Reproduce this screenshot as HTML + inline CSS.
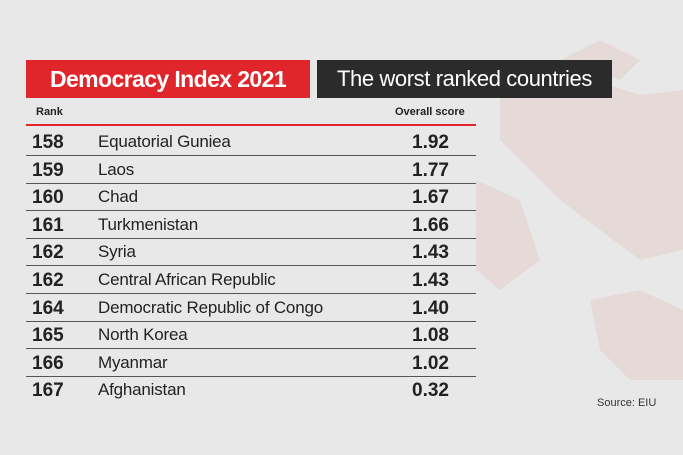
<!DOCTYPE html>
<html><head><style>
body{margin:0;width:683px;height:455px;background:#e9e8e8;position:relative;overflow:hidden;font-family:"Liberation Sans",sans-serif;}
.abs{position:absolute}
.t1{left:26px;top:60px;width:284px;height:38px;background:#e0262a;color:#fff;font-weight:bold;font-size:23px;line-height:38px;text-align:center;letter-spacing:-0.6px}
.t2{left:317px;top:60px;width:295px;height:38px;background:#2b2b2b;color:#fff;font-size:22px;line-height:38px;text-align:center;letter-spacing:-0.4px}
.hd{font-size:11px;font-weight:bold;color:#222;top:106px}
.row{position:absolute;left:26px;width:450px;height:27.6px;border-bottom:1px solid #555;font-size:17px;color:#222}
.row span{position:absolute;top:5px}
.r{left:6px;font-weight:bold;font-size:19px}
.n{left:72px;letter-spacing:-0.2px}
.s{left:386px;font-weight:bold;font-size:19px}
</style></head><body>
<svg class="abs" style="left:0;top:0" width="683" height="455">
<g fill="#e6dad9">
<polygon points="500,90 560,70 640,95 683,90 683,250 640,260 600,230 560,200 530,170 500,140"/>
<polygon points="560,60 600,40 640,60 620,80"/>
<polygon points="590,300 640,290 683,310 683,380 630,380 600,350"/>
<polygon points="476,180 520,200 540,260 500,290 476,270"/>
</g>
</svg>
<div class="abs t1">Democracy Index 2021</div>
<div class="abs t2">The worst ranked countries</div>
<div class="abs hd" style="left:36px">Rank</div>
<div class="abs hd" style="left:395px">Overall score</div>
<div class="abs" style="left:26px;top:124px;width:450px;height:2px;background:#e0262a"></div>
<div class="row" style="top:127px"><span class="r">158</span><span class="n">Equatorial Guniea</span><span class="s">1.92</span></div>
<div class="row" style="top:155px"><span class="r">159</span><span class="n">Laos</span><span class="s">1.77</span></div>
<div class="row" style="top:182px"><span class="r">160</span><span class="n">Chad</span><span class="s">1.67</span></div>
<div class="row" style="top:210px"><span class="r">161</span><span class="n">Turkmenistan</span><span class="s">1.66</span></div>
<div class="row" style="top:237px"><span class="r">162</span><span class="n">Syria</span><span class="s">1.43</span></div>
<div class="row" style="top:265px"><span class="r">162</span><span class="n">Central African Republic</span><span class="s">1.43</span></div>
<div class="row" style="top:293px"><span class="r">164</span><span class="n">Democratic Republic of Congo</span><span class="s">1.40</span></div>
<div class="row" style="top:320px"><span class="r">165</span><span class="n">North Korea</span><span class="s">1.08</span></div>
<div class="row" style="top:348px"><span class="r">166</span><span class="n">Myanmar</span><span class="s">1.02</span></div>
<div class="row" style="top:375px;border-bottom:none"><span class="r">167</span><span class="n">Afghanistan</span><span class="s">0.32</span></div>
<div class="abs" style="left:597px;top:397px;font-size:11px;color:#333">Source: EIU</div>
</body></html>
